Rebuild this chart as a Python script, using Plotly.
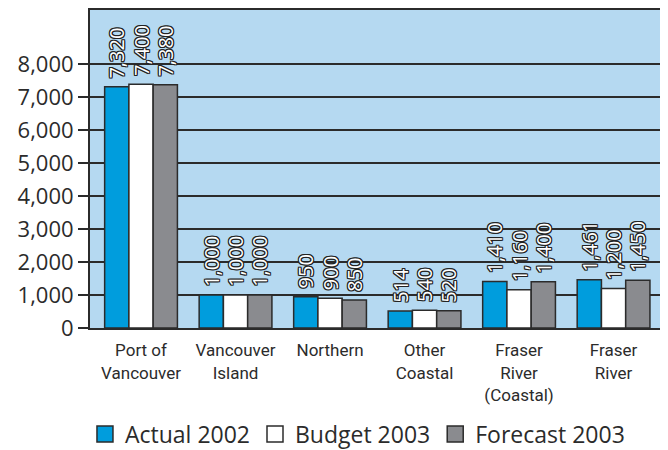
import plotly.graph_objects as go

categories = ["Port of<br>Vancouver", "Vancouver<br>Island", "Northern",
              "Other<br>Coastal", "Fraser<br>River<br>(Coastal)", "Fraser<br>River"]
actual_2002 = [7320, 1000, 950, 514, 1410, 1461]
budget_2003 = [7400, 1000, 900, 540, 1160, 1200]
forecast_2003 = [7380, 1000, 850, 520, 1400, 1450]
series_names = ["Actual 2002", "Budget 2003", "Forecast 2003"]
tick_vals = [0, 1000, 2000, 3000, 4000, 5000, 6000, 7000, 8000]
tick_text = ["0", "1,000", "2,000", "3,000", "4,000", "5,000", "6,000", "7,000", "8,000"]

colors = ["#009ddd", "#ffffff", "#8a8b8f"]
outline = "#2b2b2b"
shadow = ("1px 0 0 #222, -1px 0 0 #222, 0 1px 0 #222, 0 -1px 0 #222, "
          "1px 1px 0 #222, -1px -1px 0 #222, 1px -1px 0 #222, -1px 1px 0 #222")

fig = go.Figure()
xs = list(range(len(categories)))
for name, vals, col in zip(series_names, [actual_2002, budget_2003, forecast_2003], colors):
    fig.add_trace(go.Bar(
        x=xs, y=vals, name=name, showlegend=False,
        marker=dict(color=col, line=dict(color=outline, width=1.5)),
        text=[f" {v:,}" for v in vals], textposition="outside", textangle=-90,
        constraintext="none", cliponaxis=False,
        textfont=dict(family="Open Sans", size=20, color="white", shadow=shadow),
    ))
    fig.add_trace(go.Scatter(
        x=[None], y=[None], mode="markers", name=name, showlegend=True,
        marker=dict(symbol="square", size=22, color=col, line=dict(color=outline, width=1.5)),
    ))

# the page body adds an 8px offset; the figure is sized to fit the window exactly
fig.update_layout(
    width=660, height=442,
    margin=dict(l=82, r=0, t=2, b=122, autoexpand=False),
    paper_bgcolor="white", plot_bgcolor="#b5d9f1",
    barmode="group", bargap=0.23, bargroupgap=0,
    font=dict(family="Open Sans", color="#2b2b2b"),
    legend=dict(orientation="h", x=0.5295, xanchor="center", xref="container",
                y=0.036, yanchor="middle", yref="container",
                font=dict(size=23, family="Open Sans", color="#2b2b2b"),
                itemwidth=30, tracegroupgap=0, bgcolor="rgba(0,0,0,0)"),
)
fig.update_xaxes(
    range=[-0.54, 5.576], tickmode="array", tickvals=xs, ticktext=categories,
    showgrid=False, ticks="", showline=True, linecolor=outline, linewidth=2,
    tickfont=dict(size=17, family="Roboto, sans-serif", color="#2b2b2b"),
    ticklabelstandoff=6,
    mirror=True, zeroline=False, fixedrange=True, automargin=False,
)
fig.update_yaxes(
    range=[0, 9650], tickmode="array", tickvals=tick_vals, ticktext=tick_text,
    showgrid=True, gridcolor="#2b2b2b", gridwidth=1.5,
    ticks="outside", ticklen=10, tickcolor=outline, tickwidth=1.5,
    showline=True, linecolor=outline, linewidth=2, mirror=False,
    tickfont=dict(size=22, family="Open Sans", color="#2b2b2b"),
    zeroline=False, fixedrange=True, automargin=False,
)
fig.write_html("out.html")
